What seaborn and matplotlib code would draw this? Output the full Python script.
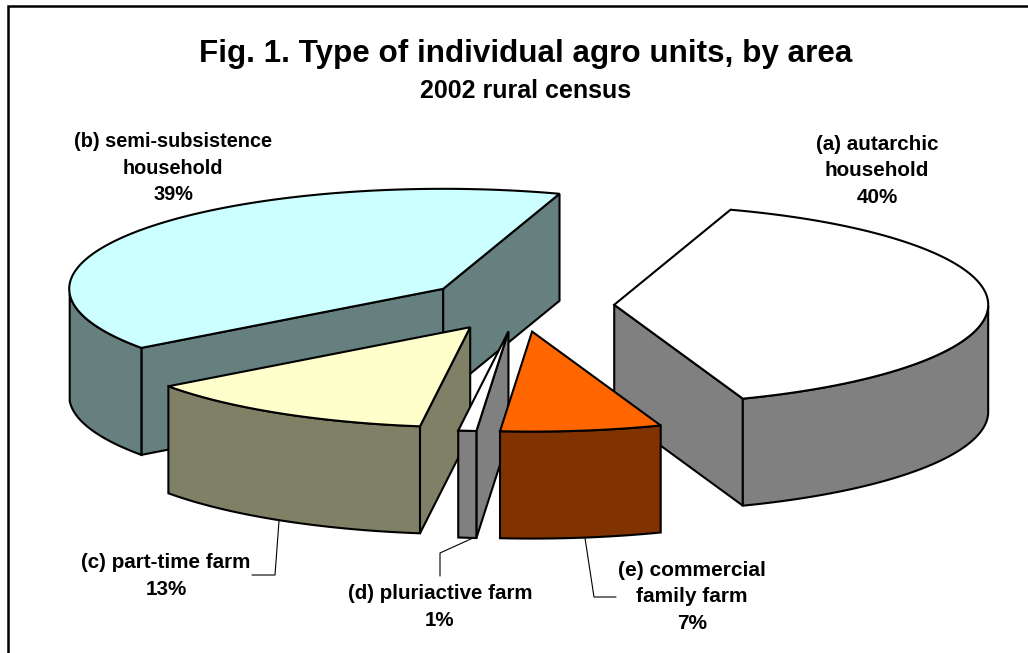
import numpy as np
import matplotlib
matplotlib.use("Agg")
import matplotlib.pyplot as plt
from matplotlib.colors import to_rgb
import seaborn as sns

# ---- data (clockwise from the start angle) ----
labels = ["(a) autarchic\nhousehold\n40%", "(e) commercial\nfamily farm\n7%",
          "(d) pluriactive farm\n1%", "(c) part-time farm\n13%",
          "(b) semi-subsistence\nhousehold\n39%"]
shares = [40, 7.2, 0.8, 13, 39]
top_colors = ["#FFFFFF", "#FF6600", "#FFFFFF", "#FFFFCC", "#CCFFFF"]
draw_order = [4, 0, 3, 2, 1]
title = "Fig. 1. Type of individual agro units, by area"
subtitle = "2002 rural census"

# ---- pie projection ----
CX, CY = 520.0, 305.0
RX, RY = 374.0, 100.0
DEPTH = 107.0
EXPLODE = 0.252
START = 17.5
FRONT_SHIFT = (3.0, 1.5)

W, H = 1028, 653
sns.set_theme(style="white")
plt.rcParams["font.family"] = ["Liberation Sans", "DejaVu Sans"]
fig = plt.figure(figsize=(W / 100, H / 100), dpi=100, facecolor="white")
ax = fig.add_axes([0, 0, 1, 1])
ax.set_xlim(0, W)
ax.set_ylim(H, 0)
ax.axis("off")

# frame: only the top and left lines fall inside the picture
ax.plot([8, 8, W], [H, 6, 6], color="black", lw=1.8, solid_joinstyle="miter", zorder=1)


def warp(phi):
    # perspective distortion of the pie angle
    p = np.radians(phi)
    return phi - 1.08 + 1.19 * np.cos(p) + 1.87 * np.sin(p)


def rim(phi, c):
    p = np.radians(warp(phi))
    return np.column_stack([c[0] + RX * np.sin(p), c[1] - RY * np.cos(p)])


def face(pts, color):
    ax.fill(pts[:, 0], pts[:, 1], facecolor=color, edgecolor="black",
            lw=1.5, joinstyle="miter", zorder=3)


edges = START + np.concatenate([[0], np.cumsum(shares)]) * 3.6
for i in draw_order:
    a0, a1 = edges[i], edges[i + 1]
    mid = np.radians((a0 + a1) / 2)
    c = (CX + EXPLODE * RX * np.sin(mid) - FRONT_SHIFT[0] * np.cos(mid),
         CY - EXPLODE * RY * np.cos(mid) - FRONT_SHIFT[1] * np.cos(mid))
    side = tuple(0.5 * v for v in to_rgb(top_colors[i]))
    down = np.array([0, DEPTH])
    centre = np.array([c])
    # radial walls that face the viewer
    if np.sin(np.radians(a0)) < 0:
        e = rim(np.array([a0]), c)
        face(np.vstack([centre, e, e + down, centre + down]), side)
    if np.sin(np.radians(a1)) > 0:
        e = rim(np.array([a1]), c)
        face(np.vstack([centre, e, e + down, centre + down]), side)
    # visible part of the outer wall (front half of the ellipse)
    lo, hi = max(a0, 90), min(a1, 270)
    if hi > lo:
        arc = rim(np.linspace(lo, hi, 80), c)
        face(np.vstack([arc, (arc + down)[::-1]]), side)
    # top surface
    arc = rim(np.linspace(a0, a1, 160), c)
    face(np.vstack([centre, arc]), top_colors[i])

# leader lines
lead_x = [[279, 275, 252], [473, 440, 440], [585, 594, 616]]
lead_y = [[521, 575, 575], [538, 553, 576], [538, 597, 597]]
for lx, ly in zip(lead_x, lead_y):
    ax.plot(lx, ly, color="black", lw=0.8, zorder=2)

label_x = [877, 692, 440, 166, 173]
label_y = [171, 597, 607, 576, 168]
label_size = [14.9, 15.0, 14.8, 14.9, 14.3]
for s, x, y, fs in zip(labels, label_x, label_y, label_size):
    ax.text(x, y, s, ha="center", va="center", fontsize=fs, fontweight="bold",
            linespacing=1.5, color="black", zorder=5)

ax.text(526, 54, title, ha="center", va="center", fontsize=22.6, fontweight="bold", color="black")
ax.text(526, 91, subtitle, ha="center", va="center", fontsize=18, fontweight="bold", color="black")

fig.savefig("out.png", dpi=100, facecolor="white")
